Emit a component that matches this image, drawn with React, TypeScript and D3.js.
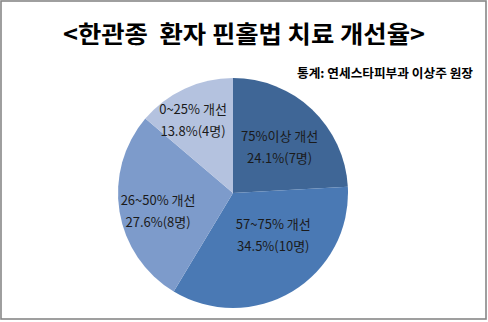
import React from "react";
import * as d3 from "d3";

const categories = ["75%이상 개선", "57~75% 개선", "26~50% 개선", "0~25% 개선"];
const counts = [7, 10, 8, 4];
const percentLabels = ["24.1%(7명)", "34.5%(10명)", "27.6%(8명)", "13.8%(4명)"];
const colors = ["#3F6696", "#4A79B4", "#7D9BCB", "#B4C2DF"];
const labelRadius = [66, 58, 77, 84];
const labelAngleNudge = [1.5, -13, -4, -3.6];

const title = "<한관종  환자 핀홀법 치료 개선율>";
const source = "통계: 연세스타피부과 이상주 원장";

const W = 488;
const H = 322;
const cx = 233;
const cy = 193;
const R = 115;

export default function App() {
  const pie = d3.pie<number>().sort(null).value((d) => d);
  const arcs = pie(counts);
  const arcGen = d3.arc<d3.PieArcDatum<number>>().innerRadius(0).outerRadius(R);
  const font = "'Noto Sans CJK KR', 'Noto Sans', sans-serif";

  return (
    <svg
      width={W}
      height={H}
      style={{ position: "absolute", left: 0, top: 0 }}
      fontFamily={font}
    >
      <rect x={0} y={0} width={W} height={H} fill="#ffffff" />
      <rect x={1} y={1} width={485} height={318} fill="#ffffff" stroke="#878787" strokeWidth={1.6} />
      <text
        x={244}
        y={32}
        textAnchor="middle"
        dominantBaseline="central"
        fontSize={24}
        fontWeight="bold"
        fill="#000"
        textLength={362}
        lengthAdjust="spacingAndGlyphs"
        style={{ whiteSpace: "pre" }}
      >
        {title}
      </text>
      <text
        x={473}
        y={72}
        textAnchor="end"
        dominantBaseline="central"
        fontSize={12.5}
        fontWeight="bold"
        fill="#000"
        textLength={176}
        lengthAdjust="spacingAndGlyphs"
      >
        {source}
      </text>
      <g transform={`translate(${cx},${cy})`}>
        {arcs.map((a, i) => (
          <path key={i} d={arcGen(a) || ""} fill={colors[i]} />
        ))}
        {arcs.map((a, i) => {
          const mid = (a.startAngle + a.endAngle) / 2 + (labelAngleNudge[i] * Math.PI) / 180;
          const x = labelRadius[i] * Math.sin(mid);
          const y = -labelRadius[i] * Math.cos(mid);
          return (
            <g key={"l" + i} fontSize={13} fill="#1a1a1a" textAnchor="middle">
              <text x={x} y={y - 11} dominantBaseline="central">
                {categories[i]}
              </text>
              <text x={x} y={y + 11} dominantBaseline="central">
                {percentLabels[i]}
              </text>
            </g>
          );
        })}
      </g>
    </svg>
  );
}
